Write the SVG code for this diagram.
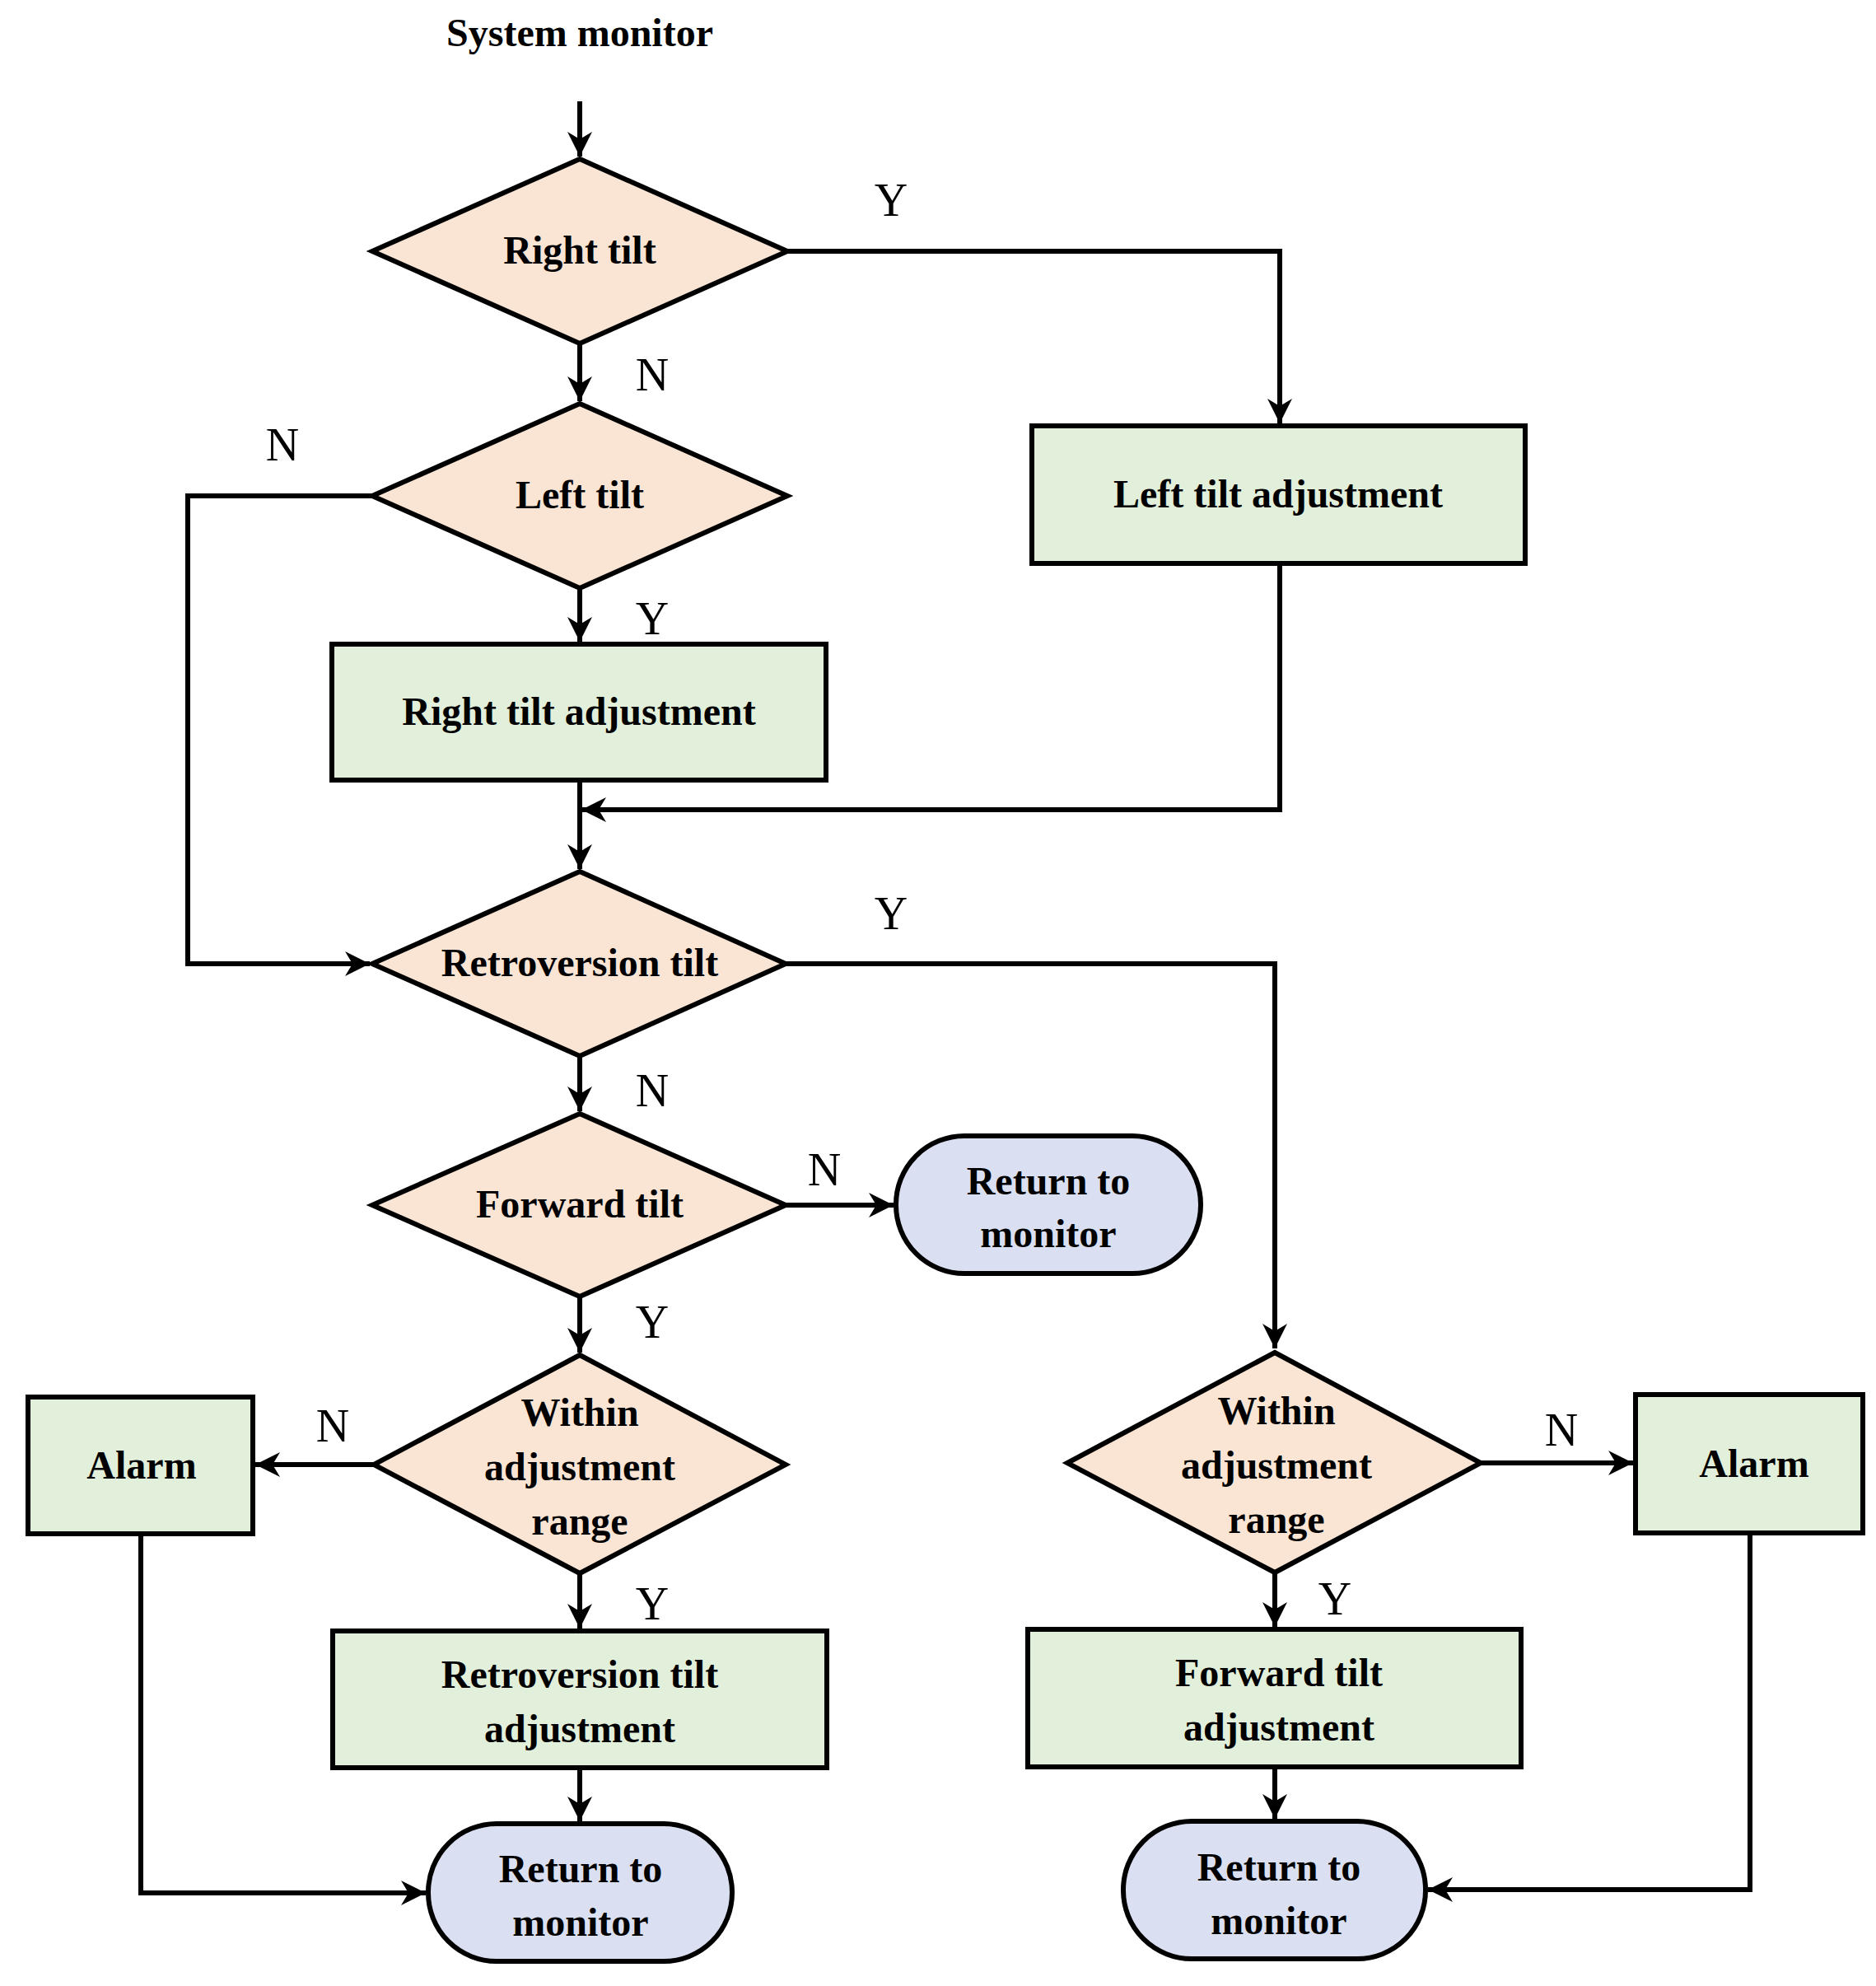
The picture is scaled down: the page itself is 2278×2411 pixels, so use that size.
<svg xmlns="http://www.w3.org/2000/svg" width="2278" height="2411" viewBox="0 0 2278 2411">
<defs>
<marker id="ah" markerWidth="8" markerHeight="8" refX="7" refY="4" orient="auto" markerUnits="userSpaceOnUse" viewBox="0 0 8 8"><path d="M0,0 L8,4 L0,8 z" fill="#000"/></marker>
<marker id="a" viewBox="0 0 10 10" refX="10" refY="5" markerWidth="36" markerHeight="30" markerUnits="userSpaceOnUse" orient="auto"><path d="M0,0 L10,5 L0,10 L3,5 z" fill="#000"/></marker>
<style>
.d{fill:#FAE5D5;stroke:#000;stroke-width:6}
.b{fill:#E2EFDA;stroke:#000;stroke-width:6}
.t{fill:#DAE0F2;stroke:#000;stroke-width:6}
.c{fill:none;stroke:#000;stroke-width:6;marker-end:url(#a)}
.l{fill:none;stroke:#000;stroke-width:6}
text{font-family:"Liberation Serif",serif;font-size:48px;font-weight:bold;text-anchor:middle}
.yn{font-weight:normal;font-size:56px}
</style>
</defs>
<rect width="2278" height="2411" fill="#fff"/>
<text x="704" y="56">System monitor</text>
<g id="connectors">
<path class="c" d="M704,123 V190"/>
<path class="c" d="M954,305 H1554 V514"/>
<path class="c" d="M704,417 V487"/>
<path class="c" d="M452,602 H228 V1170 H449"/>
<path class="c" d="M704,714 V779"/>
<path class="c" d="M704,947 V1055"/>
<path class="c" d="M1554,684 V983 H706"/>
<path class="c" d="M954,1170 H1548 V1637"/>
<path class="c" d="M704,1282 V1349"/>
<path class="c" d="M954,1463 H1085"/>
<path class="c" d="M704,1574 V1642"/>
<path class="c" d="M454,1778 H310"/>
<path class="c" d="M704,1910 V1977"/>
<path class="c" d="M704,2146 V2211"/>
<path class="c" d="M171,1862 V2298 H517"/>
<path class="c" d="M1798,1776 H1983"/>
<path class="c" d="M1548,1909 V1975"/>
<path class="c" d="M1548,2145 V2208"/>
<path class="c" d="M2125,1861 V2294 H1734"/>
</g>
<g id="labels">
<text class="yn" x="1082" y="262">Y</text>
<text class="yn" x="792" y="474">N</text>
<text class="yn" x="343" y="559">N</text>
<text class="yn" x="792" y="770">Y</text>
<text class="yn" x="1082" y="1128">Y</text>
<text class="yn" x="792" y="1343">N</text>
<text class="yn" x="1001" y="1439">N</text>
<text class="yn" x="792" y="1624">Y</text>
<text class="yn" x="404" y="1750">N</text>
<text class="yn" x="792" y="1966">Y</text>
<text class="yn" x="1896" y="1755">N</text>
<text class="yn" x="1621" y="1960">Y</text>
</g>
<g id="d1"><polygon class="d" points="704,193 956,305 704,417 452,305"/><text x="704" y="320">Right tilt</text></g>
<g id="b1"><rect class="b" x="1253" y="517" width="599" height="167"/><text x="1552" y="616">Left tilt adjustment</text></g>
<g id="d2"><polygon class="d" points="704,490 956,602 704,714 452,602"/><text x="704" y="617">Left tilt</text></g>
<g id="b2"><rect class="b" x="403" y="782" width="600" height="165"/><text x="703" y="880">Right tilt adjustment</text></g>
<g id="d3"><polygon class="d" points="704,1058 954,1170 704,1282 452,1170"/><text x="704" y="1185">Retroversion tilt</text></g>
<g id="d4"><polygon class="d" points="704,1352 954,1463 704,1574 452,1463"/><text x="704" y="1478">Forward tilt</text></g>
<g id="t1"><rect class="t" x="1088" y="1379" width="370" height="167" rx="83"/><text x="1273" y="1450">Return to</text><text x="1273" y="1514">monitor</text></g>
<g id="d5"><polygon class="d" points="704,1645 954,1778 704,1910 454,1778"/><text x="704" y="1731">Within</text><text x="704" y="1797">adjustment</text><text x="704" y="1863">range</text></g>
<g id="a1"><rect class="b" x="34" y="1696" width="273" height="166"/><text x="172" y="1795">Alarm</text></g>
<g id="b3"><rect class="b" x="404" y="1980" width="600" height="166"/><text x="704" y="2049">Retroversion  tilt</text><text x="704" y="2115">adjustment</text></g>
<g id="t2"><rect class="t" x="520" y="2214" width="369" height="167" rx="83"/><text x="705" y="2285">Return to</text><text x="705" y="2350">monitor</text></g>
<g id="d6"><polygon class="d" points="1548,1642 1798,1776 1548,1909 1296,1776"/><text x="1550" y="1729">Within</text><text x="1550" y="1795">adjustment</text><text x="1550" y="1861">range</text></g>
<g id="a2"><rect class="b" x="1986" y="1693" width="276" height="168"/><text x="2130" y="1793">Alarm</text></g>
<g id="b4"><rect class="b" x="1248" y="1978" width="599" height="167"/><text x="1553" y="2047">Forward tilt</text><text x="1553" y="2113">adjustment</text></g>
<g id="t3"><rect class="t" x="1364" y="2211" width="367" height="167" rx="83"/><text x="1553" y="2283">Return to</text><text x="1553" y="2348">monitor</text></g>
</svg>
